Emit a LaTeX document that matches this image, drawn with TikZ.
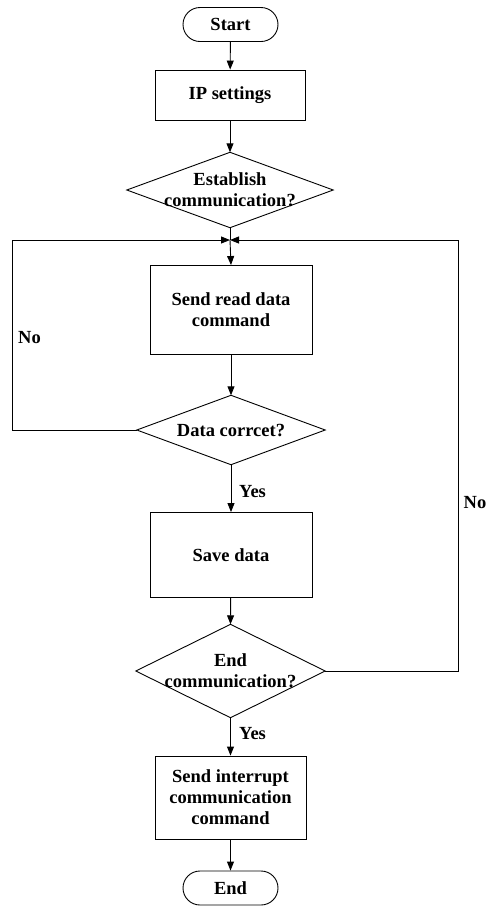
\documentclass[tikz,border=0pt]{standalone}
\usepackage{fontspec}
\setmainfont{Liberation Serif}
\usetikzlibrary{arrows.meta}
\begin{document}
\begin{tikzpicture}[x=1pt,y=-1pt,
  every node/.style={font=\bfseries\fontsize{18.5}{21}\selectfont},
  line/.style={line width=0.9pt},
  arr/.style={line width=0.9pt,-{Triangle[length=9pt,width=7pt]}},
  term/.style={draw,line width=0.9pt,rounded corners=17pt,inner sep=0pt},
  proc/.style={draw,line width=0.9pt,inner sep=0pt,align=center},
  dec/.style={inner sep=0pt,align=center},
  lbl/.style={inner sep=0pt}]
\useasboundingbox (0,0) rectangle (487,906);
\node[term,minimum width=95,minimum height=34] (start) at (230.5,24.5) {Start};
\node[proc,minimum width=150,minimum height=50] (ip) at (230,95) {IP settings};
\node[dec,minimum width=206,minimum height=75] (d1) at (230,190) {Establish\\communication?};
\draw[line] (d1.north) -- (d1.east) -- (d1.south) -- (d1.west) -- cycle;
\coordinate (j) at (230,240);
\node[proc,minimum width=162,minimum height=89] (b2) at (231,310) {Send read data\\command};
\node[dec,minimum width=188,minimum height=69] (d2) at (231,430) {Data corrcet?};
\draw[line] (d2.north) -- (d2.east) -- (d2.south) -- (d2.west) -- cycle;
\node[proc,minimum width=162,minimum height=85] (b3) at (231,555) {Save data};
\node[dec,minimum width=189,minimum height=93] (d3) at (230.5,671) {End\\communication?};
\draw[line] (d3.north) -- (d3.east) -- (d3.south) -- (d3.west) -- cycle;
\node[proc,minimum width=151,minimum height=83] (b4) at (230.5,797.5) {Send interrupt\\communication\\command};
\node[term,minimum width=95,minimum height=34] (end) at (230.5,888) {End};
\coordinate (lc) at (12,430);
\coordinate (rc) at (458,671);
\draw[arr] (start) -- (ip);
\draw[arr] (ip) -- (d1.north);
\draw[line] (d1.south) -- (j);
\draw[arr] (j) -- (b2.north);
\draw[arr] (b2) -- (d2.north);
\draw[arr] (d2.south) -- (b3.north);
\draw[arr] (b3) -- (d3.north);
\draw[arr] (d3.south) -- (b4.north);
\draw[arr] (b4) -- (end);
\draw[arr] (d2.west) -- (lc) |- (j);
\draw[arr] (d3.east) -- (rc) |- (j);
\node[lbl,anchor=west] (y1) at (239,492) {Yes};
\node[lbl,anchor=west] (y2) at (239,734) {Yes};
\node[lbl] (n1) at (29.5,338) {No};
\node[lbl] (n2) at (475,503) {No};
\end{tikzpicture}
\end{document}
